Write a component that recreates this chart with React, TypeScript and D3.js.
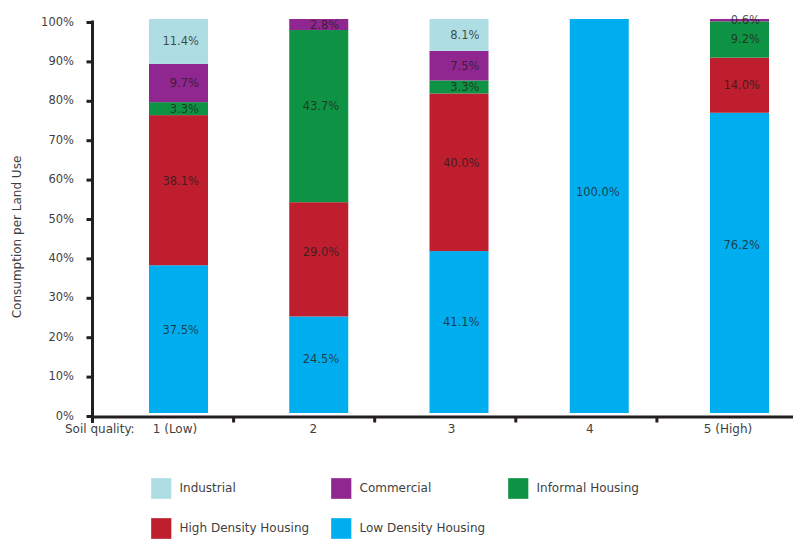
import React from "react";
import * as d3 from "d3";

const categories = ["1 (Low)", "2", "3", "4", "5 (High)"];
const seriesNames = ["Low Density Housing", "High Density Housing", "Informal Housing", "Commercial", "Industrial"];
const lowDensity = [37.5, 24.5, 41.1, 100.0, 76.2];
const highDensity = [38.1, 29.0, 40.0, 0, 14.0];
const informal = [3.3, 43.7, 3.3, 0, 9.2];
const commercial = [9.7, 2.8, 7.5, 0, 0.6];
const industrial = [11.4, 0, 8.1, 0, 0];
const yTicks = [0, 10, 20, 30, 40, 50, 60, 70, 80, 90, 100];
const legendOrder = ["Industrial", "Commercial", "Informal Housing", "High Density Housing", "Low Density Housing"];

const colors: Record<string, string> = {
  "Industrial": "#AFDDE4",
  "Commercial": "#902690",
  "Informal Housing": "#0E9344",
  "High Density Housing": "#BE1E2D",
  "Low Density Housing": "#00AEEF",
};

const W = 793;
const H = 539;
const FONT = "'DejaVu Sans', sans-serif";
const TEXT = "#3f3f3f";
const AXIS = "#231F20";

export default function App() {
  const rows = categories.map((c, i) => ({
    cat: c,
    "Low Density Housing": lowDensity[i],
    "High Density Housing": highDensity[i],
    "Informal Housing": informal[i],
    "Commercial": commercial[i],
    "Industrial": industrial[i],
  }));
  const stacked = d3.stack<any>().keys(seriesNames)(rows);

  const y = d3.scaleLinear().domain([0, 100]).range([416.5, 22.5]);
  const xBar = d3.scalePoint<string>().domain(categories).range([178.5, 739.5]);
  const barW = 59;
  const xAxisBand = d3.scaleBand<string>().domain(categories).range([92.5, 798]);
  const xLabel = d3.scalePoint<string>().domain(categories).range([175, 728]);

  const legendCols = [151, 331, 508];
  const legendRows = [478, 518];

  return (
    <svg width={W} height={H} style={{ position: "absolute", left: 0, top: 0, background: "#fff" }} fontFamily={FONT}>
      {/* bars */}
      <g transform="translate(0,-3.5)">
        {stacked.map((layer) => (
          <g key={layer.key} fill={colors[layer.key]}>
            {layer.map((d, i) => {
              const v = d[1] - d[0];
              if (v <= 0) return null;
              const cx = xBar(categories[i])!;
              return (
                <rect key={i} x={cx - barW / 2} y={y(d[1])} width={barW} height={y(d[0]) - y(d[1])} />
              );
            })}
          </g>
        ))}
        {stacked.map((layer) => (
          <g key={layer.key + "-lbl"}>
            {layer.map((d, i) => {
              const v = d[1] - d[0];
              if (v <= 0) return null;
              const cx = xBar(categories[i])!;
              const top = y(d[1]);
              const bot = y(d[0]);
              const h = bot - top;
              const ly = (top + bot) / 2 - (h > 60 ? h * 0.06 : 0);
              return (
                <text key={i} x={cx + barW / 2 - 9} y={ly} textAnchor="end" dominantBaseline="central"
                  fontSize={11.5} fill="#231F20" fillOpacity={0.8}>
                  {v.toFixed(1)}%
                </text>
              );
            })}
          </g>
        ))}
      </g>

      {/* y axis */}
      <line x1={92.5} x2={92.5} y1={20.5} y2={423} stroke={AXIS} strokeWidth={3} />
      {yTicks.map((t) => (
        <g key={t}>
          <line x1={86.5} x2={92.5} y1={y(t)} y2={y(t)} stroke={AXIS} strokeWidth={3} />
          <text x={74} y={y(t) - 1} textAnchor="end" dominantBaseline="central" fontSize={11.5} fill={TEXT}>
            {t}%
          </text>
        </g>
      ))}
      <text transform={`translate(16.5,237) rotate(-90)`} textAnchor="middle" dominantBaseline="central"
        fontSize={12} fill={TEXT}>
        Consumption per Land Use
      </text>

      {/* x axis */}
      <line x1={91} x2={793} y1={417} y2={417} stroke={AXIS} strokeWidth={3} />
      {categories.slice(1).map((c) => (
        <line key={c} x1={xAxisBand(c)!} x2={xAxisBand(c)!} y1={417} y2={422.5} stroke={AXIS} strokeWidth={3} />
      ))}
      {categories.map((c) => (
        <text key={c} x={xLabel(c)!} y={429} textAnchor="middle" dominantBaseline="central" fontSize={12} fill={TEXT}>
          {c}
        </text>
      ))}
      <text x={65} y={429} dominantBaseline="central" fontSize={12} fill={TEXT}>Soil quality:</text>

      {/* legend */}
      {legendOrder.map((name, i) => {
        const lx = legendCols[i % 3];
        const ly = legendRows[Math.floor(i / 3)];
        return (
          <g key={name} transform={`translate(${lx},${ly})`}>
            <rect x={0} y={0} width={20.5} height={21} fill={colors[name]} stroke="#ffffff" strokeOpacity={0.35} />
            <text x={28.5} y={10} dominantBaseline="central" fontSize={12} fill={TEXT}>{name}</text>
          </g>
        );
      })}
    </svg>
  );
}
